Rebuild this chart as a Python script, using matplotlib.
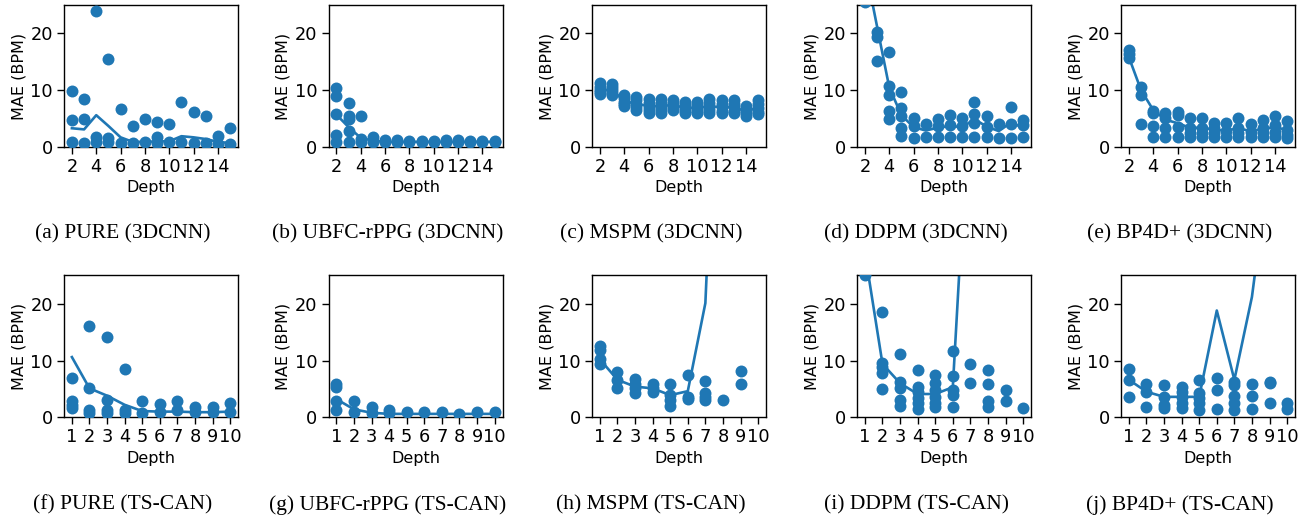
import matplotlib
matplotlib.use("Agg")
import matplotlib.pyplot as plt

# ---------------- data ----------------
depth_3dcnn = list(range(2, 16))
depth_tscan = list(range(1, 11))

pure_3dcnn_pts = [[9.9, 4.7, 0.8], [8.5, 4.9, 0.7], [24.0, 1.8, 0.8], [15.5, 1.5, 0.8],
                  [6.7, 0.7], [3.7, 0.7], [4.9, 0.8], [4.4, 1.8, 0.7], [4.1, 0.8],
                  [7.9, 0.8], [6.2, 0.7], [5.5, 0.7], [2.0, 0.5], [3.4, 0.5]]
pure_3dcnn_mean = [3.3, 3.1, 5.6, 3.7, 1.7, 0.9, 0.9, 1.0, 1.0, 1.9, 1.7, 1.4, 0.9, 0.7]

ubfc_3dcnn_pts = [[10.4, 9.0, 5.8, 2.2, 0.9], [7.8, 5.4, 4.9, 2.9, 0.8], [5.5, 1.4, 0.8],
                  [1.7, 0.9], [1.2, 0.8], [1.2, 0.8], [1.1, 0.8], [1.1, 0.8], [1.1, 0.8],
                  [1.3, 0.8], [1.2, 0.8], [1.1, 0.8], [1.0, 0.8], [1.0, 0.8]]
ubfc_3dcnn_mean = [5.7, 3.5, 1.6, 1.1, 0.9, 0.9, 0.9, 0.9, 0.9, 0.9, 0.9, 0.9, 0.9, 0.9]

mspm_3dcnn_pts = [[11.2, 10.6, 10.0, 9.6, 9.3], [11.1, 10.5, 10.0, 9.5, 9.2],
                  [9.2, 8.6, 8.0, 7.5, 7.2], [8.8, 8.2, 7.5, 7.0, 6.5],
                  [8.5, 7.8, 7.1, 6.5, 5.9], [8.5, 7.8, 7.1, 6.5, 5.9],
                  [8.3, 7.7, 7.0, 6.5], [8.0, 7.4, 6.8, 6.3, 5.9],
                  [8.0, 7.4, 6.8, 6.3, 5.9], [8.5, 7.8, 7.1, 6.5, 5.9],
                  [8.3, 7.6, 7.0, 6.4, 5.9], [8.3, 7.6, 7.0, 6.4, 5.9],
                  [7.2, 6.5, 5.9, 5.5], [8.2, 7.5, 6.8, 6.2, 5.8]]
mspm_3dcnn_mean = [10.1, 10.0, 8.1, 7.6, 7.2, 7.2, 7.4, 6.9, 6.9, 7.2, 7.0, 7.0, 6.3, 6.9]

ddpm_3dcnn_pts = [[25.6], [20.2, 19.3, 15.2], [16.7, 10.8, 9.1, 6.4, 4.9],
                  [9.6, 6.8, 5.5, 3.3, 2.0], [5.1, 3.7, 1.6], [4.1, 1.7],
                  [4.9, 3.7, 1.7], [5.6, 3.9, 1.7], [5.1, 3.7, 1.8],
                  [7.9, 5.8, 4.2, 1.8], [5.4, 3.6, 1.8], [4.1, 1.5],
                  [7.1, 4.1, 1.6], [4.7, 3.8, 1.7]]
ddpm_3dcnn_mean = [32.0, 21.2, 10.5, 5.6, 3.5, 2.9, 3.4, 3.7, 3.5, 4.9, 3.6, 2.8, 4.3, 3.4]

bp4d_3dcnn_pts = [[17.0, 16.3, 15.7], [10.6, 9.2, 4.1], [6.4, 6.0, 3.7, 1.7],
                  [6.0, 5.1, 3.3, 1.7], [6.2, 5.6, 3.6, 1.7], [5.1, 3.3, 2.4, 1.7],
                  [5.1, 3.3, 2.4, 1.7], [4.3, 3.3, 2.4, 1.7], [4.3, 2.8, 1.7],
                  [5.1, 3.3, 2.4, 1.7], [4.1, 2.7, 1.7], [4.8, 3.3, 2.4, 1.7],
                  [5.4, 3.9, 2.7, 1.7], [4.5, 3.0, 2.2, 1.5]]
bp4d_3dcnn_mean = [15.8, 10.0, 6.5, 4.8, 4.2, 3.4, 3.4, 3.0, 2.9, 3.3, 2.8, 3.2, 3.5, 3.0]

pure_tscan_pts = [[6.9, 2.8, 2.2, 1.7], [16.0, 5.1, 1.3, 0.7], [14.1, 3.1, 1.2, 0.7],
                  [8.5, 1.3, 0.7], [2.9, 0.8], [2.3, 1.0], [2.9, 1.2], [1.8, 1.0],
                  [1.8, 1.0], [2.6, 1.0]]
pure_tscan_mean = [10.6, 5.1, 3.8, 2.2, 1.1, 1.0, 1.0, 0.9, 0.9, 1.0]

ubfc_tscan_pts = [[5.8, 5.4, 2.8, 1.2], [2.9, 1.0], [1.8, 0.8], [1.3, 0.8], [1.0],
                  [1.0], [1.0], [0.6], [1.0], [0.9]]
ubfc_tscan_mean = [3.2, 1.4, 0.8, 0.6, 0.6, 0.6, 0.6, 0.6, 0.6, 0.6]

mspm_tscan_pts = [[12.6, 11.9, 10.2, 9.4], [7.9, 6.6, 5.1], [6.7, 5.8, 5.1, 4.2],
                  [5.9, 5.1, 4.4], [5.8, 3.9, 3.1, 2.0], [7.4, 3.6, 3.2],
                  [6.4, 4.2, 3.6, 3.1], [3.1], [8.2, 5.8], []]
mspm_tscan_mean = [10.2, 6.6, 5.4, 5.1, 3.9, 4.6, 20.1, 90.0, 60.0, 80.0]

ddpm_tscan_pts = [[25.1], [18.6, 9.6, 8.8, 7.8, 4.9], [11.2, 6.3, 5.1, 3.1, 2.0],
                  [8.4, 5.4, 4.5, 3.4, 2.5, 1.4], [7.5, 6.0, 4.8, 3.6, 2.6, 1.8],
                  [11.7, 7.3, 4.8, 3.9, 1.9], [9.4, 6.1], [8.4, 5.9, 2.8, 1.9],
                  [4.8, 2.8], [1.6]]
ddpm_tscan_mean = [29.0, 9.4, 6.0, 4.1, 4.1, 5.3, 60.0, 50.0, 40.0, 45.0]

bp4d_tscan_pts = [[8.5, 6.6, 3.6], [5.8, 4.5, 1.8], [5.7, 3.6, 2.2, 1.6],
                  [5.4, 4.5, 3.6, 2.5, 1.6], [6.6, 4.2, 3.4, 2.5, 1.3],
                  [6.9, 4.8, 1.4], [6.3, 5.7, 3.8, 2.5, 1.3], [5.8, 3.8, 1.4],
                  [6.3, 6.0, 2.6], [2.5, 1.5]]
bp4d_tscan_mean = [6.6, 4.5, 3.6, 3.6, 3.6, 18.8, 6.6, 21.2, 45.0, 40.0]

captions_top = ["(a) PURE (3DCNN)", "(b) UBFC-rPPG (3DCNN)", "(c) MSPM (3DCNN)",
                "(d) DDPM (3DCNN)", "(e) BP4D+ (3DCNN)"]
captions_bottom = ["(f) PURE (TS-CAN)", "(g) UBFC-rPPG (TS-CAN)", "(h) MSPM (TS-CAN)",
                   "(i) DDPM (TS-CAN)", "(j) BP4D+ (TS-CAN)"]

top_pts = [pure_3dcnn_pts, ubfc_3dcnn_pts, mspm_3dcnn_pts, ddpm_3dcnn_pts, bp4d_3dcnn_pts]
top_mean = [pure_3dcnn_mean, ubfc_3dcnn_mean, mspm_3dcnn_mean, ddpm_3dcnn_mean, bp4d_3dcnn_mean]
bot_pts = [pure_tscan_pts, ubfc_tscan_pts, mspm_tscan_pts, ddpm_tscan_pts, bp4d_tscan_pts]
bot_mean = [pure_tscan_mean, ubfc_tscan_mean, mspm_tscan_mean, ddpm_tscan_mean, bp4d_tscan_mean]

# ---------------- layout ----------------
W, H = 1304, 520
fig = plt.figure(figsize=(W / 100, H / 100), dpi=100)
color = "#1f77b4"
lefts = [64, 328.5, 592, 857, 1121]
ax_w = 174
ax_h = 142
row_tops = [5, 275.3]
cap_y = [234, 505]
TICK_FS = 12.8
LAB_FS = 11.5


def draw(ax, depths, pts, mean, xticks):
    ax.plot(depths, mean, color=color, lw=1.9, zorder=2)
    xs, ys = [], []
    for d, vals in zip(depths, pts):
        for v in vals:
            xs.append(d)
            ys.append(v)
    ax.scatter(xs, ys, s=74, color=color, zorder=3, linewidths=0)
    ax.set_xlim(depths[0] - 0.05 * (depths[-1] - depths[0]),
                depths[-1] + 0.05 * (depths[-1] - depths[0]))
    ax.set_ylim(0, 25)
    ax.set_xticks(xticks)
    ax.set_yticks([0, 10, 20])
    ax.tick_params(labelsize=TICK_FS, length=5, width=1.0, pad=3)
    ax.set_xlabel("Depth", fontsize=LAB_FS, labelpad=3)
    ax.set_ylabel("MAE (BPM)", fontsize=LAB_FS, labelpad=3)
    for sp in ax.spines.values():
        sp.set_linewidth(1.0)


for row in range(2):
    for i in range(5):
        l = lefts[i]
        t = row_tops[row]
        ax = fig.add_axes([l / W, 1 - (t + ax_h) / H, ax_w / W, ax_h / H])
        if row == 0:
            draw(ax, depth_3dcnn, top_pts[i], top_mean[i], [2, 4, 6, 8, 10, 12, 14])
            cap = captions_top[i]
        else:
            draw(ax, depth_tscan, bot_pts[i], bot_mean[i], list(range(1, 11)))
            cap = captions_bottom[i]
        fig.text((l + 59) / W, 1 - cap_y[row] / H, cap, ha="center", va="center",
                 fontsize=15.5, family="Liberation Serif")

fig.savefig("out.png", dpi=100)
